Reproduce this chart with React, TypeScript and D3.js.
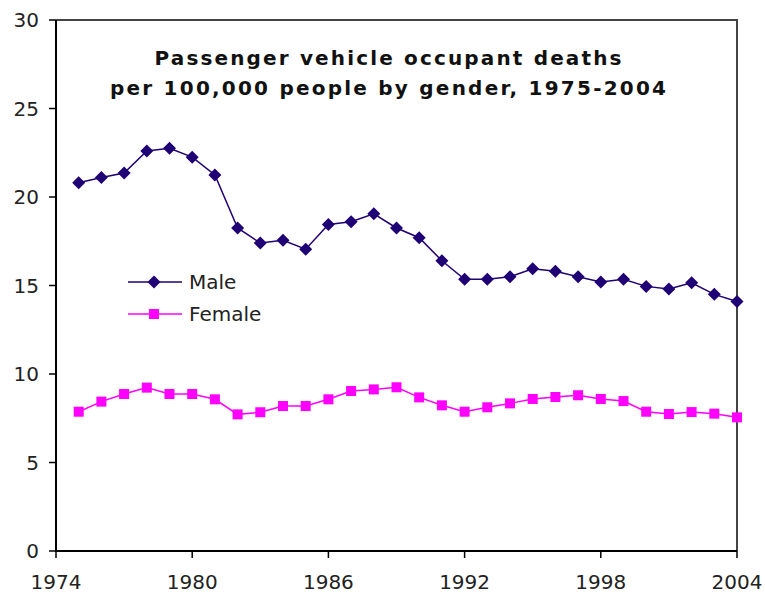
import React from 'react';
import * as d3 from 'd3';

const years = d3.range(1975, 2005);
const maleValues = [
  20.8, 21.1, 21.35, 22.6, 22.75, 22.25, 21.25, 18.25, 17.4, 17.55,
  17.05, 18.45, 18.6, 19.05, 18.25, 17.7, 16.4, 15.35, 15.35, 15.5,
  15.95, 15.8, 15.5, 15.2, 15.35, 14.95, 14.8, 15.15, 14.5, 14.1,
];
const femaleValues = [
  7.87, 8.44, 8.87, 9.23, 8.87, 8.87, 8.57, 7.72, 7.84, 8.19,
  8.19, 8.57, 9.04, 9.13, 9.25, 8.68, 8.23, 7.87, 8.12, 8.34,
  8.59, 8.7, 8.8, 8.59, 8.47, 7.87, 7.74, 7.85, 7.76, 7.55,
];
const xTicks = [1974, 1980, 1986, 1992, 1998, 2004];
const yTicks = [0, 5, 10, 15, 20, 25, 30];
const titleLines = ['Passenger vehicle occupant deaths', 'per 100,000 people by gender, 1975-2004'];

const W = 765;
const H = 594;
const plot = { left: 56, top: 20, right: 737, bottom: 551 };
const font = '"DejaVu Sans", Verdana, sans-serif';
const maleColor = '#1f0075';
const femaleColor = '#ff00ff';
// title line widths as measured on the original
const titleWidths = [467, 556];

export default function App() {
  const x = d3.scaleLinear().domain([1974, 2004]).range([plot.left, plot.right]);
  const y = d3.scaleLinear().domain([0, 30]).range([plot.bottom, plot.top]);

  const line = d3
    .line<number>()
    .x((_, i) => x(years[i]))
    .y((d) => y(d));

  const diamond = (cx: number, cy: number, r = 6.5) =>
    `M${cx},${cy - r}L${cx + r},${cy}L${cx},${cy + r}L${cx - r},${cy}Z`;

  return (
    <svg
      width={W}
      height={H}
      style={{ position: 'absolute', left: 0, top: 0, background: '#fff' }}
      fontFamily={font}
    >
      {/* frame */}
      <path
        d={`M${plot.left},${plot.top}H${plot.right}V${plot.bottom}`}
        fill="none"
        stroke="#444"
        strokeWidth={2}
      />
      <path
        d={`M${plot.left},${plot.top}V${plot.bottom}H${plot.right}`}
        fill="none"
        stroke="#000"
        strokeWidth={2}
      />

      {/* y axis */}
      {yTicks.map((t) => (
        <g key={t}>
          <line x1={plot.left - 7} x2={plot.left} y1={y(t)} y2={y(t)} stroke="#000" strokeWidth={1.5} />
          <text x={39} y={y(t)} dy="0.36em" textAnchor="end" fontSize={20} fill="#222">
            {t}
          </text>
        </g>
      ))}

      {/* x axis */}
      {xTicks.map((t) => (
        <g key={t}>
          <line x1={x(t)} x2={x(t)} y1={plot.bottom} y2={plot.bottom + 7} stroke="#000" strokeWidth={1.5} />
          <text x={x(t)} y={589} textAnchor="middle" fontSize={20} fill="#222">
            {t}
          </text>
        </g>
      ))}

      {/* title */}
      {titleLines.map((s, i) => (
        <text
          key={s}
          x={388 - titleWidths[i] / 2}
          y={65 + i * 30}
          fontSize={20}
          fontWeight="bold"
          fill="#111"
          textLength={titleWidths[i]}
          lengthAdjust="spacing"
        >
          {s}
        </text>
      ))}

      {/* male */}
      <path d={line(maleValues) ?? ''} fill="none" stroke={maleColor} strokeWidth={1.5} />
      {maleValues.map((v, i) => (
        <path key={i} d={diamond(x(years[i]), y(v))} fill={maleColor} />
      ))}

      {/* female */}
      <path d={line(femaleValues) ?? ''} fill="none" stroke={femaleColor} strokeWidth={1.5} />
      {femaleValues.map((v, i) => (
        <rect key={i} x={x(years[i]) - 5} y={y(v) - 5} width={10} height={10} fill={femaleColor} />
      ))}

      {/* legend */}
      <g>
        <line x1={128} x2={182} y1={282} y2={282} stroke={maleColor} strokeWidth={1.5} />
        <path d={diamond(154, 282)} fill={maleColor} />
        <text x={189} y={282} dy="0.36em" fontSize={20} fill="#222">Male</text>
        <line x1={128} x2={182} y1={314} y2={314} stroke={femaleColor} strokeWidth={1.5} />
        <rect x={149} y={309} width={10} height={10} fill={femaleColor} />
        <text x={189} y={314} dy="0.36em" fontSize={20} fill="#222">Female</text>
      </g>
    </svg>
  );
}
